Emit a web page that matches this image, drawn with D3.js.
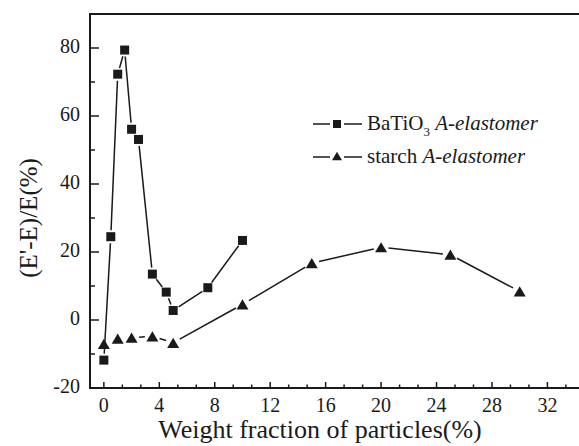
<!DOCTYPE html>
<html>
<head>
<meta charset="utf-8">
<script src="https://cdn.jsdelivr.net/npm/d3@7"></script>
<style>
    body { margin: 0; background: #fff; }
    svg { display: block; font-family: "Liberation Serif", "Times New Roman", serif; }
</style>
</head>
<body>
<svg width="579" height="446"></svg>
<script>
// BaTiO3 A-elastomer
var batioX = [0, 0.5, 1, 1.5, 2, 2.5, 3.5, 4.5, 5, 7.5, 10];
var batioY = [-11.8, 24.5, 72.3, 79.4, 56.1, 53.1, 13.5, 8.2, 2.8, 9.5, 23.4];
// starch A-elastomer
var starchX = [0, 1, 2, 3.5, 5, 10, 15, 20, 25, 30];
var starchY = [-7.0, -5.5, -5.2, -4.8, -6.7, 4.6, 16.7, 21.4, 19.2, 8.4];

var xTicks = [0, 4, 8, 12, 16, 20, 24, 28, 32];
var yTicks = [-20, 0, 20, 40, 60, 80];

var svg = d3.select("svg");

var x = d3.scaleLinear().domain([-1, 35]).range([90, 589]);
var y = d3.scaleLinear().domain([-20, 90]).range([388, 14]);

function pts(xs, ys) {
    return xs.map(function (v, i) { return [x(v), y(ys[i])]; });
}

// frame
svg.append("path")
    .attr("d", "M" + x(35) + "," + y(90) + "H" + x(-1) + "V" + y(-20) + "H" + x(35))
    .attr("fill", "none").attr("stroke", "#1a1a1a").attr("stroke-width", 2);

// x ticks (inside)
var xMinor = d3.range(0, 35, 4 / 3);
svg.append("g").selectAll("line").data(xMinor).enter().append("line")
    .attr("x1", function (d) { return x(d); }).attr("x2", function (d) { return x(d); })
    .attr("y1", y(-20)).attr("y2", function (d, i) { return y(-20) - (i % 3 == 0 ? 6 : 3.5); })
    .attr("stroke", "#1a1a1a").attr("stroke-width", 1.5);

svg.append("g").selectAll("text").data(xTicks).enter().append("text")
    .attr("x", function (d) { return x(d); }).attr("y", 412)
    .attr("text-anchor", "middle").attr("font-size", 20).attr("fill", "#1a1a1a")
    .text(function (d) { return d; });

// y ticks
var yMinor = d3.range(-20, 90, 10);
svg.append("g").selectAll("line").data(yMinor).enter().append("line")
    .attr("x1", x(-1)).attr("x2", function (d, i) { return x(-1) + (i % 2 == 0 ? 9 : 5); })
    .attr("y1", function (d) { return y(d); }).attr("y2", function (d) { return y(d); })
    .attr("stroke", "#1a1a1a").attr("stroke-width", 1.5);

svg.append("g").selectAll("text").data(yTicks).enter().append("text")
    .attr("x", 80).attr("y", function (d) { return y(d) + 5; })
    .attr("text-anchor", "end").attr("font-size", 20).attr("fill", "#1a1a1a")
    .text(function (d) { return d; });

// axis titles
svg.append("text").attr("x", 320).attr("y", 438)
    .attr("text-anchor", "middle").attr("font-size", 26).attr("fill", "#1a1a1a")
    .text("Weight fraction of particles(%)");

svg.append("text").attr("transform", "translate(37,218) rotate(-90)")
    .attr("text-anchor", "middle").attr("font-size", 25).attr("fill", "#1a1a1a")
    .text("(E'-E)/E(%)");

// lines with a gap at every symbol
function drawLine(p, gap) {
    var g = svg.append("g");
    for (var i = 0; i < p.length - 1; i++) {
        var dx = p[i + 1][0] - p[i][0], dy = p[i + 1][1] - p[i][1];
        var len = Math.sqrt(dx * dx + dy * dy);
        if (len <= 2 * gap) continue;
        var ux = dx / len, uy = dy / len;
        g.append("line")
            .attr("x1", p[i][0] + ux * gap).attr("y1", p[i][1] + uy * gap)
            .attr("x2", p[i + 1][0] - ux * gap).attr("y2", p[i + 1][1] - uy * gap)
            .attr("stroke", "#1a1a1a").attr("stroke-width", 1.5);
    }
}

function square(g, cx, cy, s) {
    g.append("rect").attr("x", cx - s / 2).attr("y", cy - s / 2)
        .attr("width", s).attr("height", s).attr("fill", "#1a1a1a");
}
function triangle(g, cx, cy, s) {
    var h = s * 0.85;
    g.append("path")
        .attr("d", "M" + cx + "," + (cy - h / 2) + "L" + (cx + s / 2) + "," + (cy + h / 2) + "L" + (cx - s / 2) + "," + (cy + h / 2) + "Z")
        .attr("fill", "#1a1a1a");
}

var pB = pts(batioX, batioY);
var pS = pts(starchX, starchY);
drawLine(pB, 6.5);
drawLine(pS, 7.5);

var gm = svg.append("g");
pB.forEach(function (d) { square(gm, d[0], d[1], 9); });
pS.forEach(function (d) { triangle(gm, d[0], d[1], 12); });

// legend
var lg = svg.append("g");
lg.append("line").attr("x1", 313).attr("x2", 330).attr("y1", 124).attr("y2", 124).attr("stroke", "#1a1a1a").attr("stroke-width", 1.5);
lg.append("line").attr("x1", 344).attr("x2", 362).attr("y1", 124).attr("y2", 124).attr("stroke", "#1a1a1a").attr("stroke-width", 1.5);
square(lg, 337, 124, 8);
lg.append("line").attr("x1", 313).attr("x2", 330).attr("y1", 157).attr("y2", 157).attr("stroke", "#1a1a1a").attr("stroke-width", 1.5);
lg.append("line").attr("x1", 344).attr("x2", 362).attr("y1", 157).attr("y2", 157).attr("stroke", "#1a1a1a").attr("stroke-width", 1.5);
triangle(lg, 337, 156, 10);

var t1 = lg.append("text").attr("x", 367).attr("y", 130).attr("font-size", 21).attr("fill", "#1a1a1a");
t1.append("tspan").text("BaTiO");
t1.append("tspan").attr("font-size", 13).attr("dy", 6).text("3");
t1.append("tspan").attr("dy", -6).text(" ");
t1.append("tspan").attr("font-style", "italic").text("A-elastomer");

var t2 = lg.append("text").attr("x", 367).attr("y", 163).attr("font-size", 21).attr("fill", "#1a1a1a");
t2.append("tspan").text("starch ");
t2.append("tspan").attr("font-style", "italic").text("A-elastomer");
</script>
</body>
</html>
